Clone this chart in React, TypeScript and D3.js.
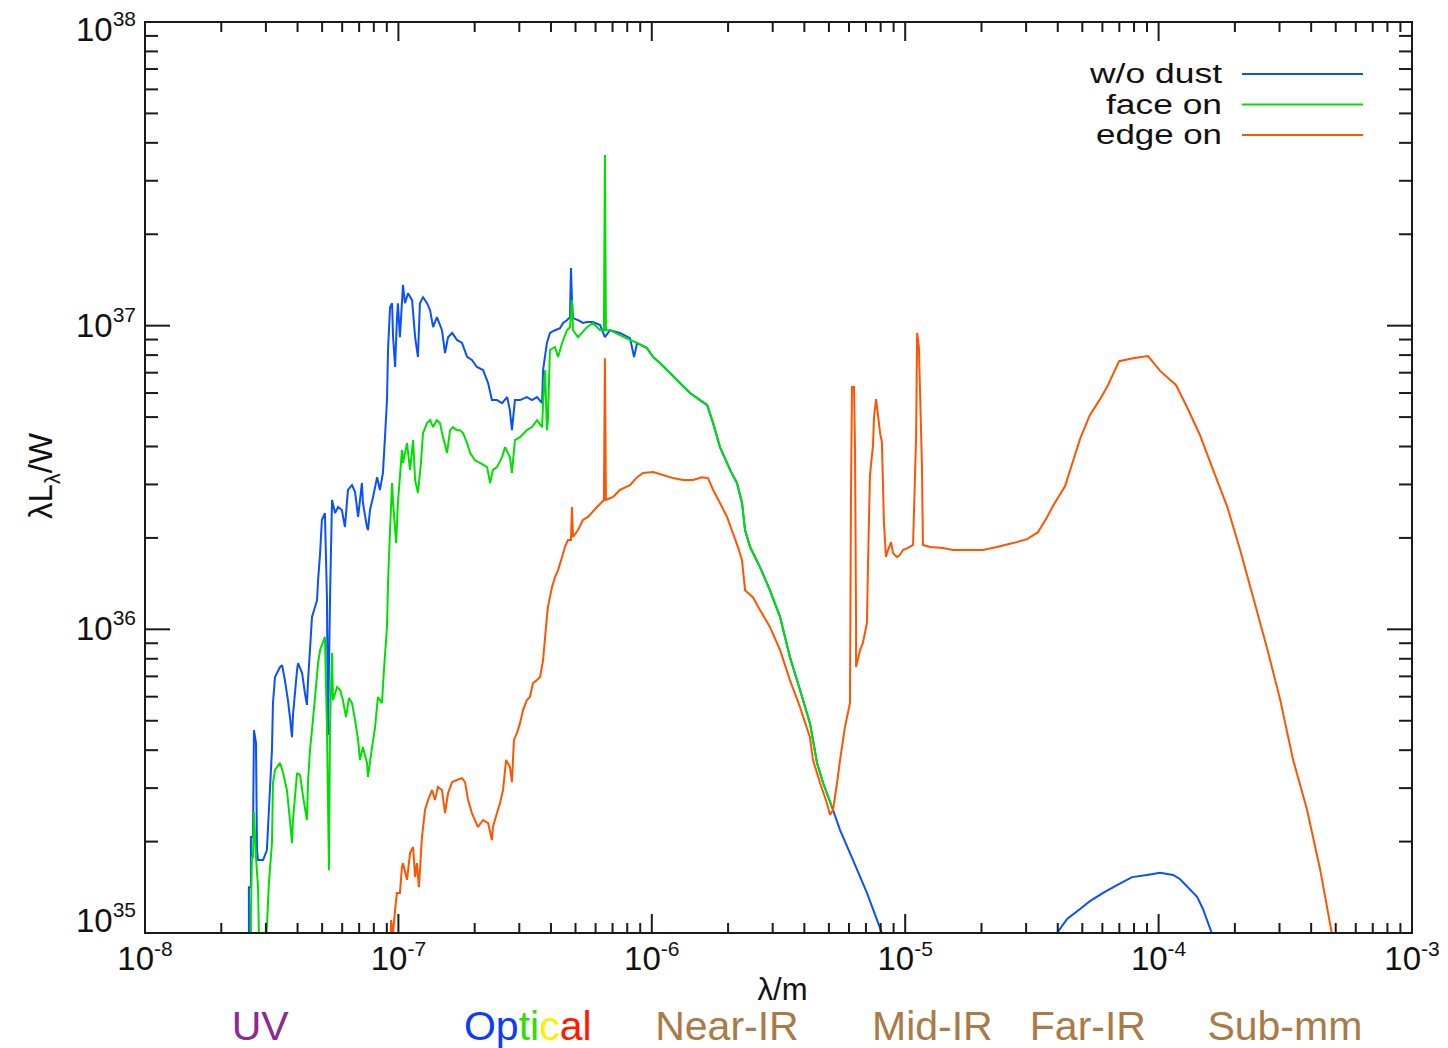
import React from "react";
import * as d3 from "d3";

// Decades shown on the axes (log10 values)
const xDecades = [-8, -7, -6, -5, -4, -3];
const yDecades = [35, 36, 37, 38];

// Spectra: [log10(lambda / m), log10(lambda L_lambda / W)]
const woDust: [number, number][] = [
  [-7.590, 34.977], [-7.590, 35.151], [-7.582, 35.151], [-7.582, 35.316], [-7.574, 35.316],
  [-7.570, 35.668], [-7.562, 35.626], [-7.558, 35.273], [-7.554, 35.240], [-7.534, 35.240],
  [-7.519, 35.273], [-7.507, 35.471], [-7.499, 35.603], [-7.495, 35.757], [-7.487, 35.843],
  [-7.467, 35.876], [-7.459, 35.882], [-7.448, 35.833], [-7.436, 35.767], [-7.428, 35.711],
  [-7.420, 35.645], [-7.416, 35.718], [-7.400, 35.866], [-7.396, 35.889], [-7.380, 35.856],
  [-7.369, 35.790], [-7.361, 35.751], [-7.357, 35.826], [-7.349, 35.932], [-7.341, 36.041],
  [-7.321, 36.096], [-7.317, 36.162], [-7.309, 36.251], [-7.302, 36.360], [-7.290, 36.383],
  [-7.282, 36.106], [-7.278, 35.652], [-7.270, 36.096], [-7.262, 36.426], [-7.250, 36.383],
  [-7.238, 36.403], [-7.223, 36.393], [-7.211, 36.337], [-7.199, 36.459], [-7.183, 36.475],
  [-7.171, 36.452], [-7.159, 36.370], [-7.144, 36.482], [-7.140, 36.416], [-7.124, 36.337],
  [-7.120, 36.327], [-7.112, 36.393], [-7.100, 36.436], [-7.084, 36.501], [-7.073, 36.459],
  [-7.061, 36.515], [-7.053, 36.633], [-7.045, 36.755], [-7.041, 36.920], [-7.033, 37.061],
  [-7.025, 37.074], [-7.021, 36.962], [-7.013, 36.864], [-7.006, 37.018], [-7.002, 37.074],
  [-6.994, 36.962], [-6.982, 37.134], [-6.974, 37.074], [-6.962, 37.107], [-6.946, 37.084],
  [-6.934, 36.962], [-6.923, 36.897], [-6.915, 37.074], [-6.903, 37.094], [-6.887, 37.074],
  [-6.875, 37.051], [-6.863, 36.995], [-6.848, 37.028], [-6.828, 36.985], [-6.816, 36.910],
  [-6.804, 36.962], [-6.788, 36.976], [-6.769, 36.953], [-6.749, 36.943], [-6.729, 36.897],
  [-6.710, 36.887], [-6.690, 36.864], [-6.666, 36.854], [-6.646, 36.811], [-6.631, 36.755],
  [-6.611, 36.755], [-6.591, 36.745], [-6.571, 36.765], [-6.560, 36.722], [-6.552, 36.656],
  [-6.540, 36.755], [-6.520, 36.755], [-6.493, 36.765], [-6.473, 36.755], [-6.453, 36.765],
  [-6.433, 36.745], [-6.429, 36.854], [-6.414, 36.943], [-6.402, 36.976], [-6.382, 36.985],
  [-6.362, 36.992], [-6.350, 37.009], [-6.335, 37.018], [-6.323, 37.028], [-6.319, 37.190],
  [-6.315, 37.084], [-6.311, 37.025], [-6.291, 37.018], [-6.272, 37.009], [-6.256, 37.012],
  [-6.232, 37.012], [-6.204, 37.002], [-6.185, 36.962], [-6.165, 36.985], [-6.126, 36.976],
  [-6.086, 36.959], [-6.070, 36.897], [-6.058, 36.943], [-6.019, 36.926], [-5.995, 36.897],
  [-5.968, 36.877], [-5.928, 36.844], [-5.889, 36.811], [-5.849, 36.778], [-5.810, 36.755],
  [-5.782, 36.739], [-5.758, 36.679], [-5.731, 36.600], [-5.691, 36.525], [-5.664, 36.482],
  [-5.644, 36.416], [-5.632, 36.327], [-5.612, 36.271], [-5.573, 36.205], [-5.534, 36.129],
  [-5.494, 36.041], [-5.455, 35.909], [-5.415, 35.800], [-5.376, 35.691], [-5.364, 35.636],
  [-5.348, 35.560], [-5.324, 35.494], [-5.289, 35.415], [-5.257, 35.339], [-5.206, 35.240],
  [-5.151, 35.132], [-5.092, 35.000], [-5.021, 34.779], [-4.448, 34.911], [-4.401, 35.000],
  [-4.361, 35.046], [-4.310, 35.079], [-4.271, 35.105], [-4.219, 35.132], [-4.164, 35.158],
  [-4.105, 35.184], [-4.046, 35.191], [-3.994, 35.198], [-3.943, 35.191], [-3.916, 35.178],
  [-3.848, 35.119], [-3.825, 35.079], [-3.789, 34.997], [-3.758, 34.911],
];

const faceOn: [number, number][] = [
  [-7.582, 34.977], [-7.582, 35.066], [-7.578, 35.250], [-7.574, 35.250], [-7.570, 35.398],
  [-7.562, 35.250], [-7.554, 35.151], [-7.550, 34.977], [-7.522, 34.977], [-7.519, 35.020],
  [-7.511, 35.165], [-7.499, 35.296], [-7.495, 35.494], [-7.487, 35.537], [-7.467, 35.560],
  [-7.455, 35.527], [-7.440, 35.471], [-7.428, 35.372], [-7.420, 35.296], [-7.416, 35.372],
  [-7.400, 35.527], [-7.388, 35.520], [-7.376, 35.448], [-7.361, 35.372], [-7.357, 35.494],
  [-7.349, 35.603], [-7.341, 35.668], [-7.329, 35.777], [-7.317, 35.889], [-7.309, 35.932],
  [-7.290, 35.975], [-7.282, 35.678], [-7.274, 35.207], [-7.270, 35.678], [-7.262, 35.922],
  [-7.258, 35.767], [-7.242, 35.810], [-7.230, 35.800], [-7.219, 35.767], [-7.207, 35.711],
  [-7.195, 35.774], [-7.183, 35.757], [-7.171, 35.701], [-7.159, 35.636], [-7.152, 35.570],
  [-7.140, 35.612], [-7.124, 35.560], [-7.120, 35.514], [-7.104, 35.612], [-7.092, 35.678],
  [-7.081, 35.777], [-7.065, 35.757], [-7.057, 35.866], [-7.045, 36.008], [-7.041, 36.152],
  [-7.033, 36.327], [-7.025, 36.482], [-7.021, 36.416], [-7.009, 36.284], [-7.002, 36.416],
  [-6.986, 36.590], [-6.982, 36.548], [-6.966, 36.613], [-6.954, 36.525], [-6.942, 36.623],
  [-6.934, 36.492], [-6.923, 36.449], [-6.911, 36.548], [-6.903, 36.646], [-6.887, 36.679],
  [-6.875, 36.689], [-6.863, 36.666], [-6.848, 36.689], [-6.836, 36.679], [-6.824, 36.633],
  [-6.808, 36.581], [-6.796, 36.656], [-6.785, 36.666], [-6.769, 36.656], [-6.757, 36.656],
  [-6.745, 36.646], [-6.729, 36.613], [-6.717, 36.581], [-6.698, 36.557], [-6.678, 36.548],
  [-6.650, 36.534], [-6.638, 36.482], [-6.627, 36.525], [-6.611, 36.534], [-6.591, 36.567],
  [-6.579, 36.600], [-6.560, 36.567], [-6.552, 36.515], [-6.540, 36.623], [-6.520, 36.633],
  [-6.493, 36.656], [-6.473, 36.666], [-6.453, 36.689], [-6.433, 36.666], [-6.429, 36.745],
  [-6.421, 36.854], [-6.414, 36.656], [-6.410, 36.689], [-6.402, 36.920], [-6.382, 36.930],
  [-6.370, 36.897], [-6.354, 36.943], [-6.335, 36.985], [-6.323, 36.995], [-6.315, 37.084],
  [-6.311, 36.985], [-6.291, 36.962], [-6.256, 36.995], [-6.232, 37.009], [-6.204, 36.985],
  [-6.189, 36.985], [-6.185, 37.562], [-6.181, 36.985], [-6.165, 36.985], [-6.126, 36.969],
  [-6.086, 36.953], [-6.058, 36.943], [-6.019, 36.926], [-5.995, 36.897], [-5.968, 36.877],
  [-5.928, 36.844], [-5.889, 36.811], [-5.849, 36.778], [-5.810, 36.755], [-5.782, 36.739],
  [-5.758, 36.679], [-5.731, 36.600], [-5.691, 36.525], [-5.664, 36.482], [-5.644, 36.416],
  [-5.632, 36.327], [-5.612, 36.271], [-5.573, 36.205], [-5.534, 36.129], [-5.494, 36.041],
  [-5.455, 35.909], [-5.415, 35.800], [-5.376, 35.691], [-5.364, 35.636], [-5.348, 35.560],
  [-5.324, 35.494], [-5.289, 35.415],
];

const edgeOn: [number, number][] = [
  [-7.029, 34.977], [-7.029, 35.043], [-7.021, 35.000], [-7.013, 35.076], [-7.006, 35.132],
  [-6.994, 35.132], [-6.986, 35.217], [-6.982, 35.230], [-6.966, 35.175], [-6.954, 35.263],
  [-6.942, 35.283], [-6.934, 35.184], [-6.927, 35.230], [-6.919, 35.151], [-6.907, 35.316],
  [-6.895, 35.405], [-6.883, 35.438], [-6.867, 35.471], [-6.856, 35.438], [-6.844, 35.481],
  [-6.828, 35.471], [-6.816, 35.395], [-6.804, 35.461], [-6.788, 35.497], [-6.769, 35.504],
  [-6.749, 35.510], [-6.737, 35.497], [-6.725, 35.438], [-6.710, 35.395], [-6.698, 35.372],
  [-6.686, 35.349], [-6.666, 35.372], [-6.646, 35.362], [-6.631, 35.306], [-6.627, 35.349],
  [-6.611, 35.395], [-6.599, 35.428], [-6.587, 35.471], [-6.575, 35.570], [-6.560, 35.547],
  [-6.552, 35.497], [-6.544, 35.636], [-6.532, 35.659], [-6.520, 35.691], [-6.508, 35.734],
  [-6.493, 35.767], [-6.481, 35.777], [-6.469, 35.823], [-6.453, 35.833], [-6.441, 35.843],
  [-6.429, 35.899], [-6.421, 35.975], [-6.414, 36.041], [-6.410, 36.073], [-6.394, 36.139],
  [-6.382, 36.172], [-6.370, 36.195], [-6.354, 36.238], [-6.343, 36.271], [-6.331, 36.294],
  [-6.319, 36.294], [-6.315, 36.403], [-6.311, 36.304], [-6.291, 36.327], [-6.272, 36.360],
  [-6.252, 36.370], [-6.216, 36.403], [-6.189, 36.426], [-6.185, 36.893], [-6.181, 36.426],
  [-6.153, 36.436], [-6.126, 36.459], [-6.086, 36.475], [-6.058, 36.501], [-6.035, 36.515],
  [-5.995, 36.518], [-5.956, 36.508], [-5.916, 36.498], [-5.877, 36.492], [-5.837, 36.492],
  [-5.802, 36.501], [-5.778, 36.498], [-5.758, 36.459], [-5.731, 36.416], [-5.703, 36.370],
  [-5.680, 36.317], [-5.660, 36.271], [-5.644, 36.228], [-5.632, 36.129], [-5.601, 36.106],
  [-5.573, 36.064], [-5.534, 36.008], [-5.494, 35.932], [-5.455, 35.833], [-5.415, 35.744],
  [-5.376, 35.645], [-5.364, 35.570], [-5.336, 35.494], [-5.309, 35.428], [-5.297, 35.389],
  [-5.285, 35.405], [-5.269, 35.494], [-5.257, 35.570], [-5.238, 35.678], [-5.218, 35.757],
  [-5.214, 36.432], [-5.210, 36.798], [-5.202, 36.798], [-5.198, 36.597], [-5.194, 36.031],
  [-5.194, 35.876], [-5.178, 35.932], [-5.167, 35.955], [-5.151, 36.021], [-5.147, 36.205],
  [-5.139, 36.508], [-5.127, 36.607], [-5.123, 36.699], [-5.115, 36.758], [-5.111, 36.732],
  [-5.099, 36.646], [-5.092, 36.617], [-5.084, 36.353], [-5.076, 36.238], [-5.068, 36.261],
  [-5.056, 36.287], [-5.048, 36.251], [-5.032, 36.238], [-5.021, 36.245], [-5.009, 36.261],
  [-4.989, 36.268], [-4.969, 36.278], [-4.957, 36.633], [-4.953, 36.976], [-4.946, 36.930],
  [-4.934, 36.541], [-4.930, 36.278], [-4.902, 36.271], [-4.851, 36.268], [-4.811, 36.261],
  [-4.756, 36.261], [-4.693, 36.261], [-4.638, 36.271], [-4.575, 36.284], [-4.519, 36.297],
  [-4.476, 36.320], [-4.440, 36.370], [-4.417, 36.406], [-4.369, 36.472], [-4.310, 36.627],
  [-4.271, 36.706], [-4.231, 36.758], [-4.200, 36.804], [-4.156, 36.883], [-4.101, 36.893],
  [-4.042, 36.900], [-3.994, 36.851], [-3.931, 36.804], [-3.888, 36.732], [-3.837, 36.640],
  [-3.785, 36.525], [-3.730, 36.406], [-3.679, 36.264], [-3.627, 36.106], [-3.572, 35.938],
  [-3.521, 35.771], [-3.470, 35.573], [-3.414, 35.405], [-3.363, 35.211], [-3.316, 34.997],
  [-3.284, 34.911],
];

const seriesNames = ["w/o dust", "face on", "edge on"];
const seriesColors = ["#0a50ff", "#00e000", "#ff5500"];
const legendTextWidths = [132, 116, 126];

// Spectral band annotations below the axis: centre wavelength (m) and coloured pieces
const bandNames = ["UV", "Optical", "Near-IR", "Mid-IR", "Far-IR", "Sub-mm"];
const bandCentres = [2.85e-8, 3.24e-7, 1.98e-6, 1.28e-5, 5.26e-5, 3.15e-4];
const bandPieces: [string, string][][] = [
  [["UV", "#8a2a92"]],
  [["Op", "#0a3cff"], ["ti", "#33dd00"], ["c", "#ffee00"], ["al", "#ff1a00"]],
  [["Near-IR", "#a97b47"]],
  [["Mid-IR", "#a97b47"]],
  [["Far-IR", "#a97b47"]],
  [["Sub-mm", "#a97b47"]],
];

const FONT = "'Liberation Sans', Arial, Helvetica, sans-serif";

export default function App() {
  const W = 1448;
  const H = 1048;
  const left = 145, right = 1412, top = 22, bottom = 933;

  const x = d3.scaleLog().domain([1e-8, 1e-3]).range([left, right]);
  const y = d3.scaleLog().domain([1e35, 1e38]).range([bottom, top]);

  const line = d3
    .line<[number, number]>()
    .x((d) => x(Math.pow(10, d[0])))
    .y((d) => y(Math.pow(10, d[1])));

  const series = [woDust, faceOn, edgeOn];

  const xMinor: number[] = [];
  for (const d of xDecades.slice(0, -1)) for (let k = 2; k <= 9; k++) xMinor.push(k * Math.pow(10, d));
  const yMinor: number[] = [];
  for (const d of yDecades.slice(0, -1)) for (let k = 2; k <= 9; k++) yMinor.push(k * Math.pow(10, d));

  const axisColor = "#1a1a1a";
  const xMajLen = 19, xMinLen = 10, yMajLen = 25, yMinLen = 13;

  return (
    <svg
      width={W}
      height={H}
      style={{ position: "absolute", left: 0, top: 0, display: "block", background: "#fff" }}
      fontFamily={FONT}
    >
      <defs>
        <clipPath id="plotClip">
          <rect x={left} y={top} width={right - left} height={bottom - top} />
        </clipPath>
      </defs>
      <rect x={0} y={0} width={W} height={H} fill="#fff" />

      {/* spectra */}
      <g clipPath="url(#plotClip)">
        {series.map((s, i) => (
          <path
            key={i}
            d={line(s) || ""}
            fill="none"
            stroke={seriesColors[i]}
            strokeWidth={2}
            strokeLinejoin="miter"
            strokeMiterlimit={2}
          />
        ))}
      </g>

      {/* frame */}
      <rect x={left} y={top} width={right - left} height={bottom - top} fill="none" stroke={axisColor} strokeWidth={2} />

      {/* x ticks */}
      {xDecades.map((d) => {
        const px = x(Math.pow(10, d));
        return (
          <g key={"xM" + d}>
            <line x1={px} x2={px} y1={bottom} y2={bottom - xMajLen} stroke={axisColor} strokeWidth={2} />
            <line x1={px} x2={px} y1={top} y2={top + xMajLen} stroke={axisColor} strokeWidth={2} />
          </g>
        );
      })}
      {xMinor.map((v, i) => {
        const px = x(v);
        return (
          <g key={"xm" + i}>
            <line x1={px} x2={px} y1={bottom} y2={bottom - xMinLen} stroke={axisColor} strokeWidth={2} />
            <line x1={px} x2={px} y1={top} y2={top + xMinLen} stroke={axisColor} strokeWidth={2} />
          </g>
        );
      })}
      {/* y ticks */}
      {yDecades.map((d) => {
        const py = y(Math.pow(10, d));
        return (
          <g key={"yM" + d}>
            <line x1={left} x2={left + yMajLen} y1={py} y2={py} stroke={axisColor} strokeWidth={2} />
            <line x1={right} x2={right - yMajLen} y1={py} y2={py} stroke={axisColor} strokeWidth={2} />
          </g>
        );
      })}
      {yMinor.map((v, i) => {
        const py = y(v);
        return (
          <g key={"ym" + i}>
            <line x1={left} x2={left + yMinLen} y1={py} y2={py} stroke={axisColor} strokeWidth={2} />
            <line x1={right} x2={right - yMinLen} y1={py} y2={py} stroke={axisColor} strokeWidth={2} />
          </g>
        );
      })}

      {/* x tick labels */}
      {xDecades.map((d) => (
        <text key={"xl" + d} x={x(Math.pow(10, d))} y={970} textAnchor="middle" fontSize={33} fill="#111">
          <tspan>10</tspan>
          <tspan dy={-14} fontSize={21}>{String(d)}</tspan>
        </text>
      ))}
      {/* y tick labels */}
      {yDecades.map((d) => {
        const py = Math.min(Math.max(y(Math.pow(10, d)) + 11, 41), 932);
        return (
          <text key={"yl" + d} x={136} y={py} textAnchor="end" fontSize={33} fill="#111">
            <tspan>10</tspan>
            <tspan dy={-15} fontSize={21}>{String(d)}</tspan>
          </text>
        );
      })}

      {/* axis titles */}
      <text x={(left + right) / 2 + 4} y={1000} textAnchor="middle" fontSize={31} fill="#111">
        λ/m
      </text>
      <text transform="translate(52,476) rotate(-90)" textAnchor="middle" fontSize={33} fill="#111">
        <tspan>λL</tspan>
        <tspan dy={8} fontSize={22}>λ</tspan>
        <tspan dy={-8}>/W</tspan>
      </text>

      {/* legend */}
      {seriesNames.map((name, i) => {
        const ly = 74 + i * 30.5;
        return (
          <g key={"lg" + i}>
            <text
              x={1222}
              y={ly + 9}
              textAnchor="end"
              fontSize={27}
              fill="#111"
              textLength={legendTextWidths[i]}
              lengthAdjust="spacingAndGlyphs"
            >
              {name}
            </text>
            <line x1={1242} x2={1363} y1={ly} y2={ly} stroke={seriesColors[i]} strokeWidth={2} />
          </g>
        );
      })}

      {/* spectral band labels */}
      {bandNames.map((b, i) => (
        <text key={"band" + b} x={x(bandCentres[i])} y={1040} textAnchor="middle" fontSize={41}>
          {bandPieces[i].map(([t, c], j) => (
            <tspan key={j} fill={c}>
              {t}
            </tspan>
          ))}
        </text>
      ))}
    </svg>
  );
}
